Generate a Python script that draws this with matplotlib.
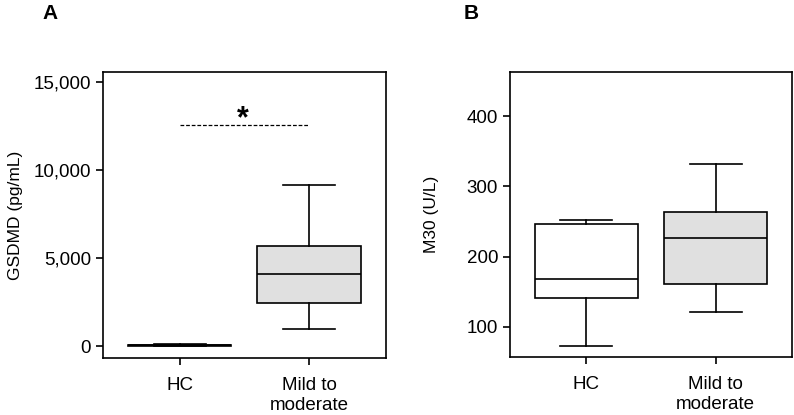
import matplotlib
matplotlib.use("Agg")
import matplotlib.pyplot as plt

plt.rcParams['font.family'] = ['Liberation Sans', 'DejaVu Sans']

groups = ["HC", "Mild to\nmoderate"]

# Panel A: GSDMD (pg/mL) box stats [whislo, q1, med, q3, whishi]
gsdmd_whislo = [0, 965]
gsdmd_q1 = [20, 2425]
gsdmd_med = [40, 4070]
gsdmd_q3 = [60, 5700]
gsdmd_whishi = [90, 9150]

# Panel B: M30 (U/L)
m30_whislo = [72.8, 120.5]
m30_q1 = [140.7, 161.5]
m30_med = [167.8, 226.6]
m30_q3 = [246.6, 264.0]
m30_whishi = [252.3, 331.7]

fill_colors = ["white", "#e0e0e0"]

gsdmd_ticks = [0, 5000, 10000, 15000]
gsdmd_ticklabels = ["0", "5,000", "10,000", "15,000"]
m30_ticks = [100, 200, 300, 400]
sig_level = 12557

fig = plt.figure(figsize=(7.94, 4.15), dpi=100)
axA = fig.add_axes([0.1297, 0.1373, 0.3564, 0.6892])
axB = fig.add_axes([0.6423, 0.1398, 0.3552, 0.6867])

lw = 1.2


def draw(ax, lo, q1, med, q3, hi):
    stats = []
    for i in range(len(groups)):
        stats.append(dict(whislo=lo[i], q1=q1[i], med=med[i], q3=q3[i],
                          whishi=hi[i], fliers=[], label=groups[i]))
    bp = ax.bxp(stats, positions=[1, 2], widths=0.8, patch_artist=True,
                showfliers=False,
                boxprops=dict(linewidth=lw, edgecolor="black"),
                medianprops=dict(color="black", linewidth=lw),
                whiskerprops=dict(color="black", linewidth=lw),
                capprops=dict(color="black", linewidth=lw),
                capwidths=0.4)
    for patch, c in zip(bp["boxes"], fill_colors):
        patch.set_facecolor(c)
    ax.set_xlim(0.41, 2.59)
    for s in ax.spines.values():
        s.set_linewidth(lw)
    ax.tick_params(axis="both", direction="out", length=5, width=lw,
                   labelsize=13.5)
    ax.tick_params(axis="x", pad=9)
    for t in ax.get_xticklabels():
        t.set_linespacing(1.2)


draw(axA, gsdmd_whislo, gsdmd_q1, gsdmd_med, gsdmd_q3, gsdmd_whishi)
axA.set_ylim(-680, 15570)
axA.set_yticks(gsdmd_ticks)
axA.set_yticklabels(gsdmd_ticklabels)
axA.set_ylabel("GSDMD (pg/mL)", fontsize=12.5, labelpad=8)
axA.plot([1, 2], [sig_level, sig_level], color="black", linestyle=(0, (3, 1.5)),
         linewidth=0.9)
axA.text(1.49, sig_level - 550, "*", ha="center", va="bottom", fontsize=22,
         fontweight="bold")

draw(axB, m30_whislo, m30_q1, m30_med, m30_q3, m30_whishi)
axB.set_ylim(57, 463)
axB.set_yticks(m30_ticks)
axB.set_ylabel("M30 (U/L)", fontsize=12.5, labelpad=20)

fig.text(0.054, 0.968, "A", fontsize=15, fontweight="bold", ha="left", va="center")
fig.text(0.584, 0.968, "B", fontsize=15, fontweight="bold", ha="left", va="center")

fig.savefig("out.png", dpi=100)
